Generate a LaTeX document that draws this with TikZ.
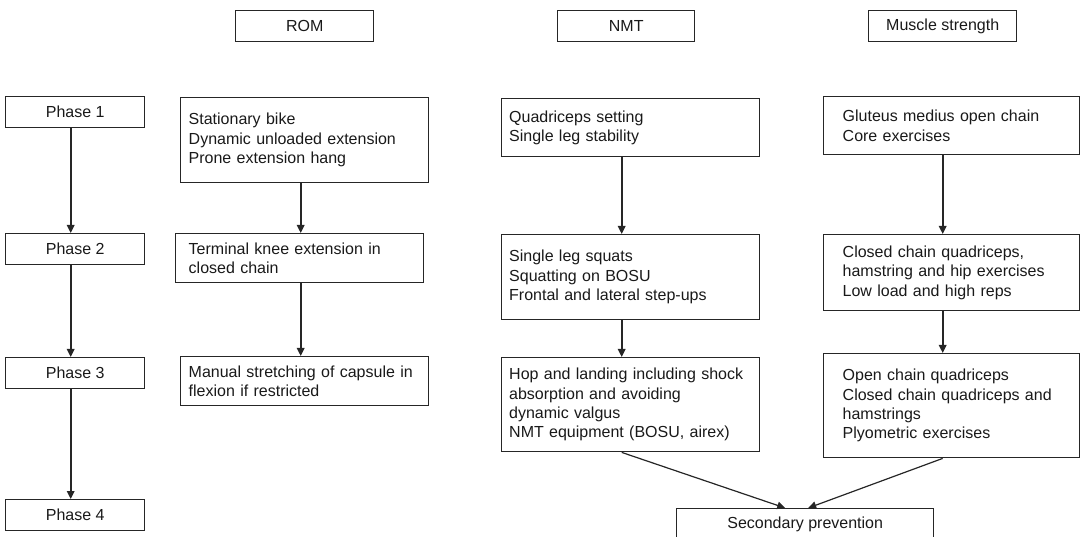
\documentclass[tikz,border=0pt]{standalone}
\usepackage{fontspec}
\setmainfont{Liberation Sans}
\usetikzlibrary{arrows.meta,positioning}

\begin{document}
\begin{tikzpicture}[
  x=1pt, y=-1pt,
  every node/.style={font=\fontsize{16}{19.4}\selectfont, text=black!90},
  hdr/.style={draw=black!85, line width=1.4pt, minimum height=31pt, inner sep=0pt, anchor=north west},
  phase/.style={hdr, minimum width=139pt},
  item/.style={draw=black!85, line width=1.4pt, align=left, inner ysep=0pt, anchor=north west},
  arr/.style={-{Triangle[length=8pt,width=7.5pt]}, line width=1.7pt, color=black!85},
  link/.style={-{Triangle[length=8pt,width=7.5pt]}, line width=1.2pt, color=black!85},
]
\useasboundingbox (0,0) rectangle (1080,537);

% --- column headers ---
\node[hdr, minimum width=138pt] (rom) at (235,10) {ROM};
\node[hdr, minimum width=137pt] (nmt) at (557,10) {NMT};
\node[hdr, minimum width=148pt] (ms)  at (868,10) {Muscle strength};

% --- phases ---
\node[phase] (p1) at (5,96)  {Phase 1};
\node[phase] (p2) at (5,233) {Phase 2};
\node[phase] (p3) at (5,357) {Phase 3};
\node[phase] (p4) at (5,499) {Phase 4};

% --- ROM column ---
\node[item, text width=232pt, inner xsep=8pt, minimum height=85pt] (r1) at (180,97)
  {Stationary bike\\Dynamic unloaded extension\\Prone extension hang};
\node[item, text width=222pt, inner xsep=13pt, minimum height=49pt] (r2) at (175,233)
  {Terminal knee extension in\\closed chain};
\node[item, text width=232pt, inner xsep=8pt, minimum height=49pt] (r3) at (180,356)
  {Manual stretching of capsule in\\flexion if restricted};

% --- NMT column ---
\node[item, text width=243pt, inner xsep=7.5pt, minimum height=58pt] (n1) at (501,98)
  {Quadriceps setting\\Single leg stability};
\node[item, text width=243pt, inner xsep=7.5pt, minimum height=85pt] (n2) at (501,234)
  {Single leg squats\\Squatting on BOSU\\Frontal and lateral step-ups};
\node[item, text width=243pt, inner xsep=7.5pt, minimum height=94pt] (n3) at (501,357)
  {Hop and landing including shock\\absorption and avoiding\\dynamic valgus\\NMT equipment (BOSU, airex)};

% --- Muscle strength column ---
\node[item, text width=218pt, inner xsep=19pt, minimum height=58pt] (m1) at (823,96)
  {Gluteus medius open chain\\Core exercises};
\node[item, text width=218pt, inner xsep=19pt, minimum height=76pt] (m2) at (823,234)
  {Closed chain quadriceps,\\hamstring and hip exercises\\Low load and high reps};
\node[item, text width=218pt, inner xsep=19pt, minimum height=104pt] (m3) at (823,353)
  {Open chain quadriceps\\Closed chain quadriceps and\\hamstrings\\Plyometric exercises};

% --- end point ---
\node[hdr, minimum width=257pt] (sp) at (676,508) {Secondary prevention};

% --- arrows ---
\draw[arr] ([xshift=-4.5pt]p1.south) -- ([xshift=-4.5pt]p2.north);
\draw[arr] ([xshift=-4.5pt]p2.south) -- ([xshift=-4.5pt]p3.north);
\draw[arr] ([xshift=-4.5pt]p3.south) -- ([xshift=-4.5pt]p4.north);

\draw[arr] ([xshift=-4pt]r1.south) -- ([xshift=-4pt]r1.south |- r2.north);
\draw[arr] ([xshift=1pt]r2.south) -- ([xshift=1pt]r2.south |- r3.north);

\draw[arr] ([xshift=-9pt]n1.south) -- ([xshift=-9pt]n2.north);
\draw[arr] ([xshift=-9pt]n2.south) -- ([xshift=-9pt]n3.north);

\draw[arr] ([xshift=-9pt]m1.south) -- ([xshift=-9pt]m2.north);
\draw[arr] ([xshift=-9pt]m2.south) -- ([xshift=-9pt]m3.north);

\draw[link] ([xshift=-9pt]n3.south) -- ([xshift=-20pt]sp.north);
\draw[link] ([xshift=-9pt]m3.south) -- ([xshift=3pt]sp.north);

\end{tikzpicture}
\end{document}
